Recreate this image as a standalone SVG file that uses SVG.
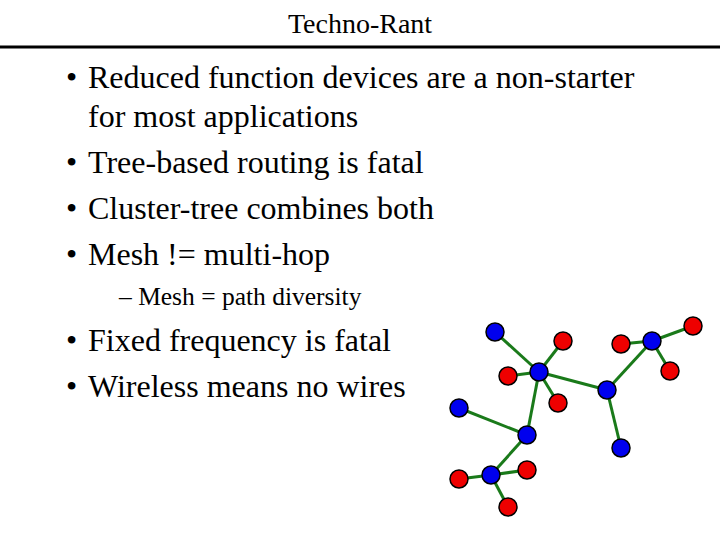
<svg xmlns="http://www.w3.org/2000/svg" width="720" height="540" viewBox="0 0 720 540">
<style>
text{font-family:"Liberation Serif","Times New Roman",serif;fill:#000}
.b{font-size:32px}
.e line{stroke:#1a7a1a;stroke-width:3}
.n circle{stroke:#000;stroke-width:1.5}
.blue{fill:#0000ee}.red{fill:#ee0000}
</style>
<rect width="720" height="540" fill="#fff"/>
<text x="360" y="33" font-size="28" text-anchor="middle">Techno-Rant</text>
<line x1="0" y1="47" x2="720" y2="47" stroke="#000" stroke-width="3"/>
<g class="b">
<text x="66" y="88">•</text><text x="88" y="88">Reduced function devices are a non-starter</text>
<text x="88" y="127">for most applications</text>
<text x="66" y="173">•</text><text x="88" y="173">Tree-based routing is fatal</text>
<text x="66" y="219">•</text><text x="88" y="219">Cluster-tree combines both</text>
<text x="66" y="265">•</text><text x="88" y="265">Mesh != multi-hop</text>
<text x="66" y="351">•</text><text x="88" y="351">Fixed frequency is fatal</text>
<text x="66" y="397">•</text><text x="88" y="397">Wireless means no wires</text>
</g>
<text x="119" y="305" font-size="25.5">– Mesh = path diversity</text>
<g class="e" id="connectors">
<line x1="495" y1="332" x2="539" y2="372"/>
<line x1="563" y1="341" x2="539" y2="372"/>
<line x1="508" y1="376" x2="539" y2="372"/>
<line x1="558" y1="403" x2="539" y2="372"/>
<line x1="539" y1="372" x2="607" y2="390"/>
<line x1="539" y1="372" x2="527" y2="435"/>
<line x1="607" y1="390" x2="652" y2="341"/>
<line x1="607" y1="390" x2="621" y2="448"/>
<line x1="652" y1="341" x2="621" y2="344"/>
<line x1="652" y1="341" x2="693" y2="326"/>
<line x1="652" y1="341" x2="670" y2="371"/>
<line x1="459" y1="408" x2="527" y2="435"/>
<line x1="527" y1="435" x2="491" y2="475"/>
<line x1="491" y1="475" x2="527" y2="470"/>
<line x1="491" y1="475" x2="459" y2="479"/>
<line x1="491" y1="475" x2="508" y2="507"/>
</g>
<g class="n">
<g id="b1"><circle class="blue" cx="495" cy="332" r="9"/></g>
<g id="r1"><circle class="red" cx="563" cy="341" r="9"/></g>
<g id="r2"><circle class="red" cx="508" cy="376" r="9"/></g>
<g id="b2"><circle class="blue" cx="539" cy="372" r="9"/></g>
<g id="r3"><circle class="red" cx="558" cy="403" r="9"/></g>
<g id="b3"><circle class="blue" cx="607" cy="390" r="9"/></g>
<g id="r4"><circle class="red" cx="621" cy="344" r="9"/></g>
<g id="b4"><circle class="blue" cx="652" cy="341" r="9"/></g>
<g id="r5"><circle class="red" cx="693" cy="326" r="9"/></g>
<g id="r6"><circle class="red" cx="670" cy="371" r="9"/></g>
<g id="b5"><circle class="blue" cx="459" cy="408" r="9"/></g>
<g id="b6"><circle class="blue" cx="527" cy="435" r="9"/></g>
<g id="b7"><circle class="blue" cx="621" cy="448" r="9"/></g>
<g id="b8"><circle class="blue" cx="491" cy="475" r="9"/></g>
<g id="r7"><circle class="red" cx="527" cy="470" r="9"/></g>
<g id="r8"><circle class="red" cx="459" cy="479" r="9"/></g>
<g id="r9"><circle class="red" cx="508" cy="507" r="9"/></g>
</g>
</svg>
